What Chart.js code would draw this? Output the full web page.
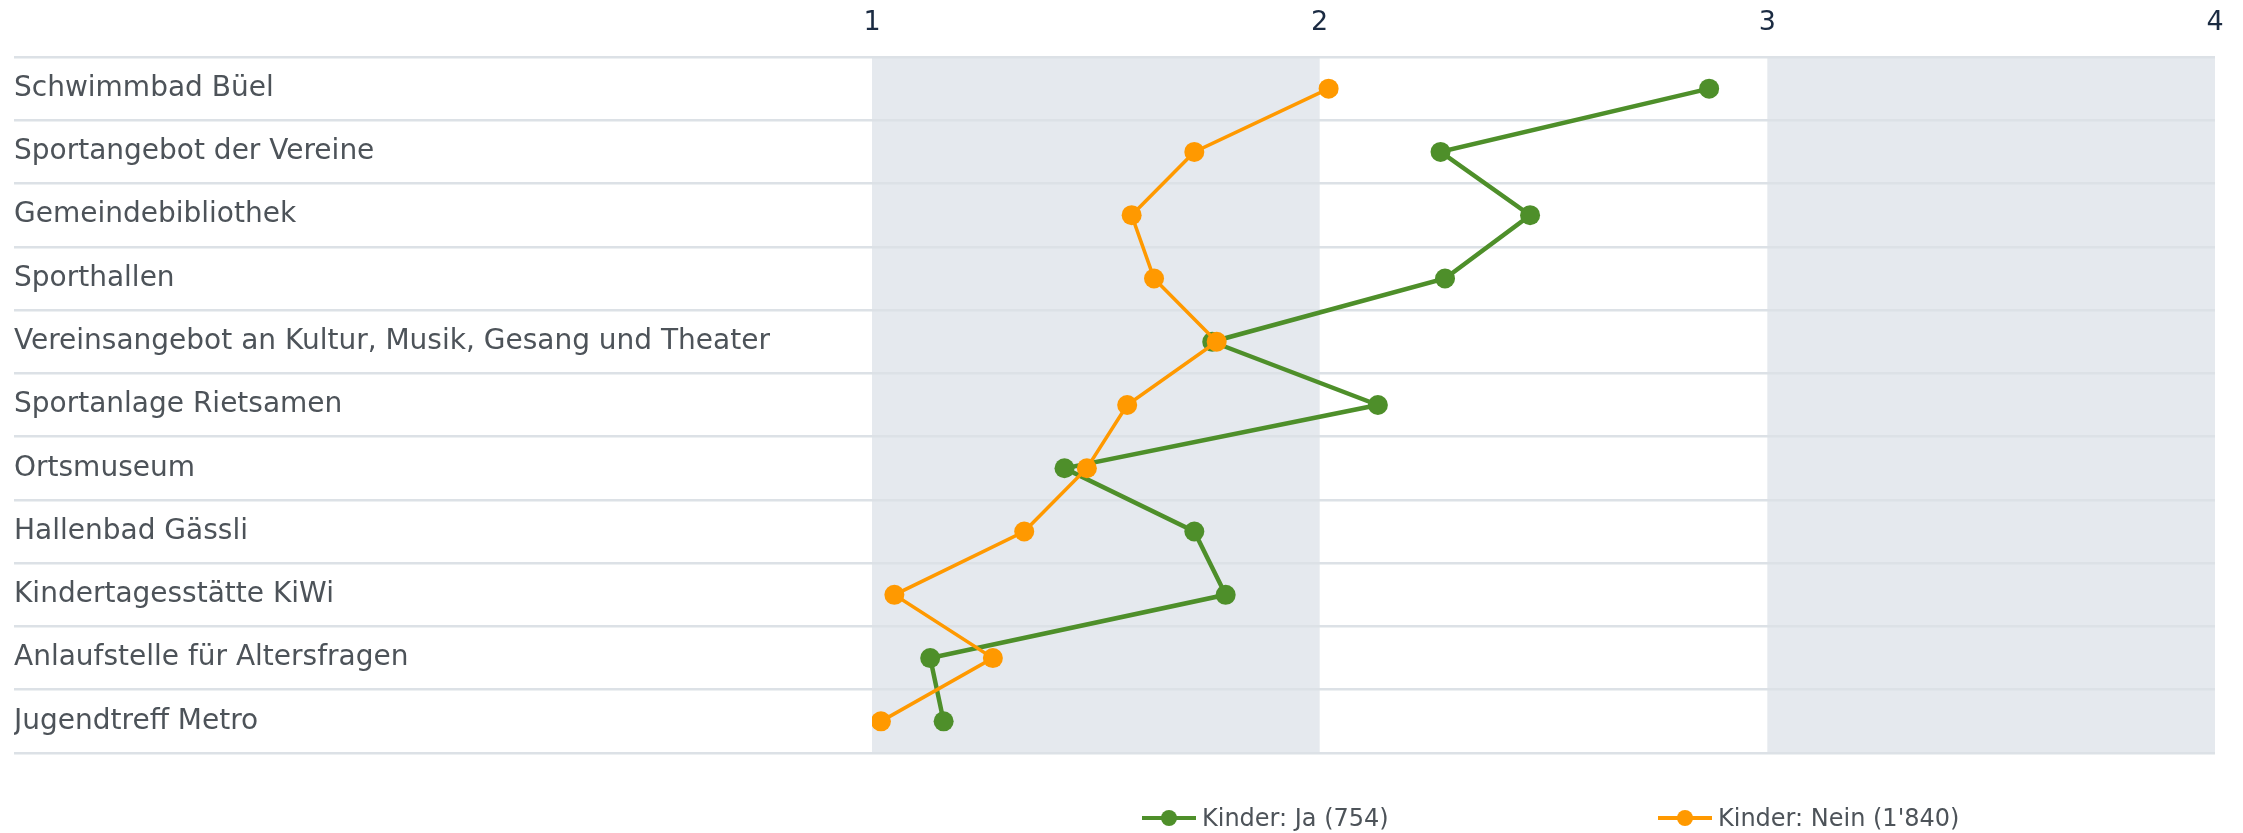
<!DOCTYPE html>
<html lang="de">
<head>
<meta charset="utf-8">
<title>Nutzung Angebote nach Kindern</title>
<script src="https://cdn.jsdelivr.net/npm/chart.js@4/dist/chart.umd.min.js"></script>
<style>
  body { margin: 0; background: #fff; }
  #wrap { position: relative; width: 2243px; height: 833px; }
  #legend { position: absolute; top: 803px; left: 0; font-family: "DejaVu Sans", Verdana, sans-serif; font-size: 24px; color: #4d5359; }
  .item { position: absolute; display: flex; align-items: center; white-space: nowrap; height: 30px; }
  .icon { position: relative; width: 54px; height: 30px; margin-right: 6px; }
  .icon .ln { position: absolute; left: 0; right: 0; top: 13px; height: 4px; }
  .icon .dot { position: absolute; left: 19px; top: 7px; width: 16px; height: 16px; border-radius: 50%; }
</style>
</head>
<body>
<div id="wrap">
  <canvas id="chart" width="2243" height="833"></canvas>
  <div id="legend"></div>
</div>
<script>
// Kategorien (von oben nach unten)
const categories = [
  'Schwimmbad Büel',
  'Sportangebot der Vereine',
  'Gemeindebibliothek',
  'Sporthallen',
  'Vereinsangebot an Kultur, Musik, Gesang und Theater',
  'Sportanlage Rietsamen',
  'Ortsmuseum',
  'Hallenbad Gässli',
  'Kindertagesstätte KiWi',
  'Anlaufstelle für Altersfragen',
  'Jugendtreff Metro'
];

// Serien
const seriesLabels = ['Kinder: Ja (754)', "Kinder: Nein (1'840)"];
const kinderJa = [2.87, 2.27, 2.47, 2.28, 1.76, 2.13, 1.43, 1.72, 1.79, 1.13, 1.16];
const kinderNein = [2.02, 1.72, 1.58, 1.63, 1.77, 1.57, 1.48, 1.34, 1.05, 1.27, 1.02];

// Achse oben
const xTicks = [1, 2, 3, 4];

const green = '#4e8f2a';
const orange = '#ff9900';
const textGrey = '#4d5359';

// Graue Bänder 1-2 und 3-4
const bandsPlugin = {
  id: 'bands',
  beforeDraw(chart) {
    const { ctx, chartArea, scales } = chart;
    ctx.save();
    ctx.fillStyle = '#e5e9ee';
    for (let i = 0; i < xTicks.length - 1; i += 2) {
      const x1 = scales.x.getPixelForValue(xTicks[i]);
      const x2 = scales.x.getPixelForValue(xTicks[i + 1]);
      ctx.fillRect(x1, chartArea.top, x2 - x1, chartArea.bottom - chartArea.top);
    }
    ctx.restore();
  }
};

const ctx = document.getElementById('chart').getContext('2d');

const chart = new Chart(ctx, {
  type: 'line',
  data: {
    labels: categories,
    datasets: [
      {
        label: seriesLabels[0],
        data: kinderJa,
        borderColor: green,
        backgroundColor: green,
        borderWidth: 4.5,
        pointRadius: 10,
        pointHoverRadius: 10,
        pointBorderWidth: 0,
        order: 1
      },
      {
        label: seriesLabels[1],
        data: kinderNein,
        borderColor: orange,
        backgroundColor: orange,
        borderWidth: 3.5,
        pointRadius: 10,
        pointHoverRadius: 10,
        pointBorderWidth: 0,
        order: 0
      }
    ]
  },
  options: {
    indexAxis: 'y',
    responsive: false,
    animation: false,
    layout: { padding: { left: 14, right: 28, top: 0, bottom: 80 } },
    plugins: {
      legend: { display: false },
      tooltip: { enabled: false }
    },
    scales: {
      x: {
        type: 'linear',
        position: 'top',
        min: 1,
        max: 4,
        afterBuildTicks: scale => { scale.ticks = xTicks.map(v => ({ value: v })); },
        afterFit: scale => { scale.height = 57; },
        grid: { display: false, drawTicks: false },
        border: { display: false },
        ticks: {
          color: '#1b2b42',
          font: { family: 'DejaVu Sans', size: 27 },
          padding: 18
        }
      },
      y: {
        type: 'category',
        offset: true,
        afterFit: scale => { scale.width = 858; },
        grid: {
          offset: true,
          color: '#dce1e6',
          lineWidth: 2.5,
          drawTicks: true,
          tickLength: 858
        },
        border: { display: false },
        ticks: {
          crossAlign: 'far',
          color: textGrey,
          font: { family: 'DejaVu Sans', size: 28 }
        }
      }
    }
  },
  plugins: [bandsPlugin]
});

// Legende als HTML (Linie mit Punkt)
const legendLeft = [1142, 1658];
const legend = document.getElementById('legend');
chart.data.datasets.forEach((ds, i) => {
  const item = document.createElement('div');
  item.className = 'item';
  item.style.left = legendLeft[i] + 'px';
  item.innerHTML = `
    <span class="icon">
      <span class="ln" style="background:${ds.borderColor}"></span>
      <span class="dot" style="background:${ds.borderColor}"></span>
    </span>
    <span>${ds.label}</span>`;
  legend.appendChild(item);
});
</script>
</body>
</html>
